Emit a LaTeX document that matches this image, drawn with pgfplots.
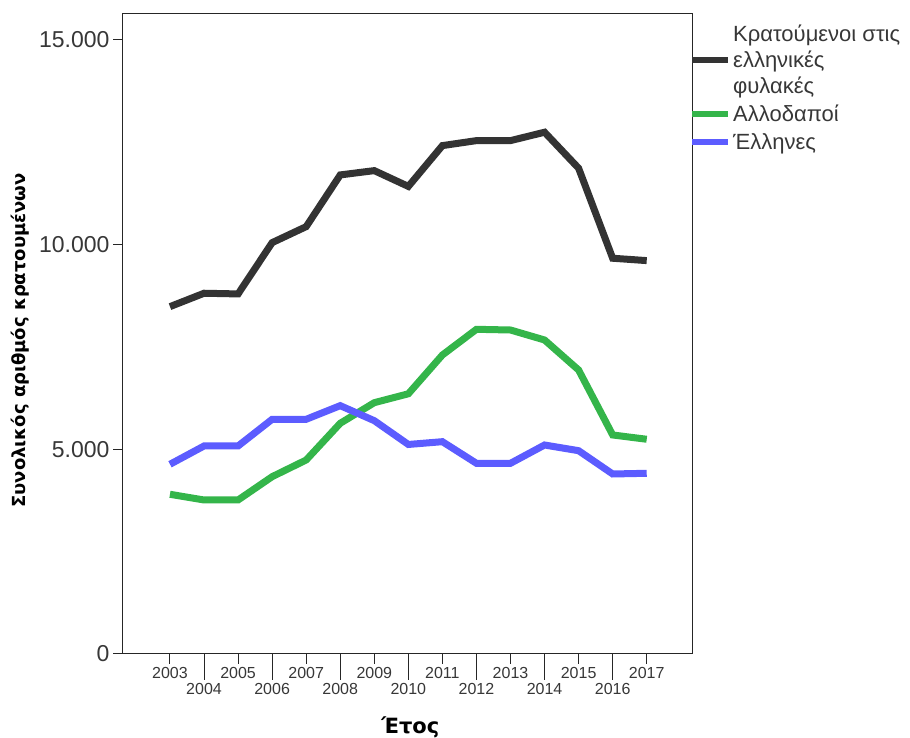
\documentclass[border=0pt]{standalone}
\usepackage{pgfplots}
\pgfplotsset{compat=1.18}
\usepackage{fontspec}
\setmainfont{Liberation Sans}
\newfontfamily\labfont{DejaVu Sans}

\definecolor{cblack}{RGB}{51,51,51}
\definecolor{cgreen}{RGB}{52,181,74}
\definecolor{cblue}{RGB}{92,92,255}
\definecolor{ctext}{RGB}{55,55,55}

% Κρατούμενοι, Αλλοδαποί, Έλληνες ανά έτος
\pgfplotstableread{
year total foreign greek
2003 8485 3901 4634
2004 8812 3762 5081
2005 8795 3762 5081
2006 10048 4331 5733
2007 10439 4739 5733
2008 11702 5636 6066
2009 11807 6139 5699
2010 11421 6356 5118
2011 12418 7304 5186
2012 12540 7931 4658
2013 12540 7914 4658
2014 12745 7670 5105
2015 11866 6937 4966
2016 9667 5350 4397
2017 9609 5245 4414
}\prisondata

\begin{document}
\begin{tikzpicture}
\begin{axis}[
    scale only axis,
    width=569pt, height=640pt,
    xmin=2001.62, xmax=2018.33,
    ymin=0, ymax=15633,
    axis line style={black!85, line width=1pt},
    tick style={black!85, line width=1pt},
    tick align=outside,
    xtick pos=lower, ytick pos=left,
    minor tick num=0,
    xtick={2003,2005,2007,2009,2011,2013,2015,2017},
    xticklabels={2003,2005,2007,2009,2011,2013,2015,2017},
    extra x ticks={2004,2006,2008,2010,2012,2014,2016},
    extra x tick labels={2004,2006,2008,2010,2012,2014,2016},
    extra x tick style={major tick length=26pt},
    major tick length=10pt,
    xticklabel style={font=\fontsize{16}{18}\selectfont, text=ctext},
    ytick={0,5000,10000,15000},
    yticklabels={0,5.000,10.000,15.000},
    yticklabel style={font=\fontsize{23}{26}\selectfont, text=ctext},
    ylabel={\labfont\bfseries Συνολικός αριθμός κρατουμένων},
    ylabel style={at={(axis description cs:-0.181,0.49)}, anchor=center,
        font=\fontsize{18}{20}\selectfont, text=black},
    xlabel={\labfont\bfseries Έτος},
    xlabel style={at={(axis description cs:0.505,-0.125)}, anchor=base,
        font=\fontsize{21}{24}\selectfont, text=black},
    legend style={at={(1,1)}, anchor=north west, draw=none, fill=none,
        xshift=-3pt, yshift=-7pt,
        font=\fontsize{22}{26}\selectfont, text=ctext,
        cells={anchor=west, align=left}, inner xsep=0pt,
        row sep=6pt},
    legend image code/.code={\draw[#1, line width=6pt] (0pt,0pt) -- (36pt,0pt);},
    every axis plot/.append style={line width=7pt, line join=miter},
]
\addplot[cblack, no markers] table[x=year, y=total] {\prisondata};
\addlegendentry{Κρατούμενοι στις\\ελληνικές\\φυλακές}
\addplot[cgreen, no markers] table[x=year, y=foreign] {\prisondata};
\addlegendentry{Αλλοδαποί}
\addplot[cblue, no markers] table[x=year, y=greek] {\prisondata};
\addlegendentry{Έλληνες}
\coordinate (bl) at (rel axis cs:0,0);
\coordinate (tr) at (rel axis cs:1,1);
\end{axis}
\pgfresetboundingbox
\path ([shift={(-123pt,-84pt)}]bl) rectangle ([shift={(218pt,14pt)}]tr);
\end{tikzpicture}
\end{document}
